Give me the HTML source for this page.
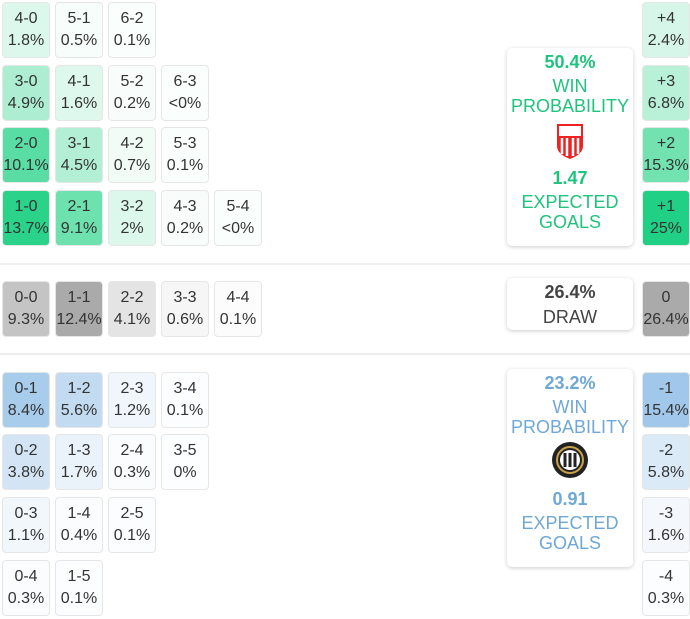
<!DOCTYPE html>
<html><head><meta charset="utf-8"><style>
body{margin:0;width:690px;height:619px;background:#fff;position:relative;overflow:hidden;font-family:"Liberation Sans Narrow","Liberation Sans",sans-serif;color:#333}
.c{position:absolute;width:48px;height:56px;border:1px solid #e6e6e6;border-radius:4px;box-sizing:border-box;text-align:center;font-size:16px;line-height:22px;padding-top:5px}
.b{position:absolute;left:507px;width:126px;border-radius:5px;box-shadow:0 1px 4px rgba(0,0,0,.2);text-align:center;font-size:18px;line-height:20px;background:#fff}
.sep{position:absolute;left:0;width:690px;height:2px;background:#eee}
.g{color:#1fc47c}.bl{color:#6fa8d6}
.big{font-weight:bold}
</style></head><body>
<div class="sep" style="top:263px"></div>
<div class="sep" style="top:353px"></div>
<script>
var X=[2,55,108,161,214],Y=[2,65,127,190],YA=[372,434,497,560],YD=281;
function cell(x,y,t,p,bg){document.write('<div class="c" style="left:'+x+'px;top:'+y+'px;background:'+bg+'">'+t+'<br>'+p+'</div>');}
function G(a){return 'rgba(20,206,125,'+a+')'}
function B(a){return 'rgba(110,170,222,'+a+')'}
var home=[
[["4-0","1.8%",.15],["5-1","0.5%",.04],["6-2","0.1%",.02]],
[["3-0","4.9%",.35],["4-1","1.6%",.14],["5-2","0.2%",.03],["6-3","&lt;0%",.02]],
[["2-0","10.1%",.7],["3-1","4.5%",.32],["4-2","0.7%",.06],["5-3","0.1%",.02]],
[["1-0","13.7%",.9],["2-1","9.1%",.62],["3-2","2%",.15],["4-3","0.2%",.03],["5-4","&lt;0%",.02]]];
home.forEach(function(r,i){r.forEach(function(c,j){cell(X[j],Y[i],c[0],c[1],G(c[2]))})});
var dr=[["0-0","9.3%","#c4c4c4"],["1-1","12.4%","#aaaaaa"],["2-2","4.1%","#e4e4e4"],["3-3","0.6%","#f6f6f6"],["4-4","0.1%","#fcfcfc"]];
dr.forEach(function(c,j){cell(X[j],YD,c[0],c[1],c[2])});
var aw=[
[["0-1","8.4%",.6],["1-2","5.6%",.42],["2-3","1.2%",.1],["3-4","0.1%",.02]],
[["0-2","3.8%",.3],["1-3","1.7%",.14],["2-4","0.3%",.03],["3-5","0%",.01]],
[["0-3","1.1%",.09],["1-4","0.4%",.03],["2-5","0.1%",.02]],
[["0-4","0.3%",.03],["1-5","0.1%",.02]]];
aw.forEach(function(r,i){r.forEach(function(c,j){cell(X[j],YA[i],c[0],c[1],B(c[2]))})});
var R=[["+4","2.4%",G(.18),Y[0]],["+3","6.8%",G(.3),Y[1]],["+2","15.3%",G(.6),Y[2]],["+1","25%",G(.95),Y[3]],
["0","26.4%","#aaaaaa",YD],["-1","15.4%",B(.65),YA[0]],["-2","5.8%",B(.25),YA[1]],["-3","1.6%",B(.08),YA[2]],["-4","0.3%",B(.02),YA[3]]];
R.forEach(function(c){cell(642,c[3],c[0],c[1],c[2])});
</script>
<div class="b g" style="top:48px;height:198px">
<div class="big" style="margin-top:4px">50.4%</div>
<div style="margin-top:4px">WIN<br>PROBABILITY</div>
<svg width="30" height="38" viewBox="0 0 30 38" style="margin-top:6px"><path d="M2 2H28V24Q28 32 15 37Q2 32 2 24Z" fill="#e22"/><rect x="4" y="4" width="22" height="10" fill="#fff"/><path d="M7 16V32M12 16V34M18 16V34M23 16V32" stroke="#fff" stroke-width="2.5"/></svg>
<div class="big" style="margin-top:4px">1.47</div>
<div style="margin-top:4px">EXPECTED<br>GOALS</div>
</div>
<div class="b" style="top:278px;height:52px;color:#444">
<div class="big" style="margin-top:4px">26.4%</div>
<div style="margin-top:5px">DRAW</div>
</div>
<div class="b bl" style="top:369px;height:198px">
<div class="big" style="margin-top:4px">23.2%</div>
<div style="margin-top:4px">WIN<br>PROBABILITY</div>
<svg width="38" height="38" viewBox="0 0 38 38" style="margin-top:4px"><circle cx="19" cy="19" r="18" fill="#222"/><circle cx="19" cy="19" r="13" fill="none" stroke="#c9a24a" stroke-width="2"/><circle cx="19" cy="19" r="10" fill="#fff"/><path d="M14 12V26M19 12V26M24 12V26" stroke="#222" stroke-width="3"/></svg>
<div class="big" style="margin-top:6px">0.91</div>
<div style="margin-top:4px">EXPECTED<br>GOALS</div>
</div>
</body></html>
